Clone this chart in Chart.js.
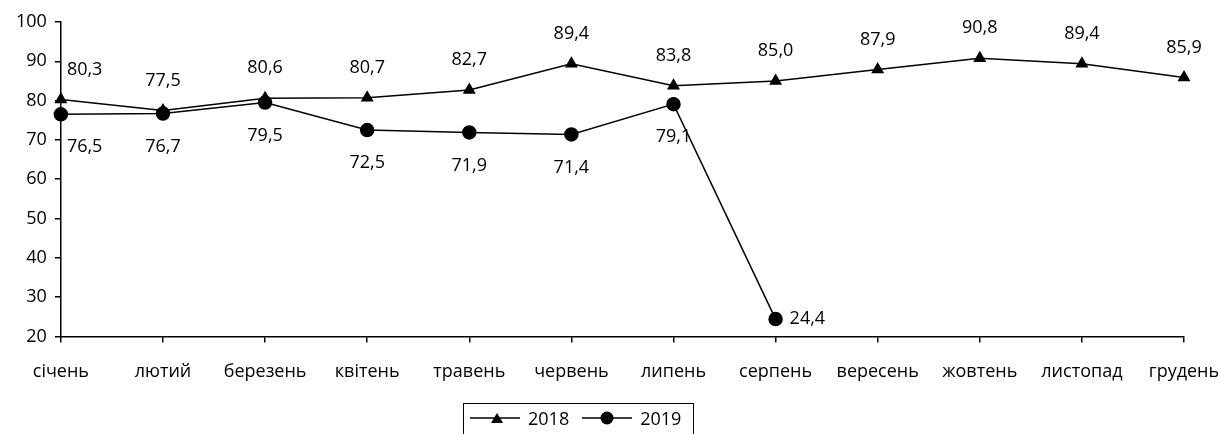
<!DOCTYPE html>
<html>
<head>
<meta charset="utf-8">
<script src="https://cdn.jsdelivr.net/npm/chart.js@4/dist/chart.umd.min.js"></script>
<style>
  html, body { margin: 0; padding: 0; background: #fff; }
  #wrap { position: relative; width: 1220px; height: 434px; }
  #legend {
    position: absolute; left: 463px; top: 403px; width: 231px; height: 40px;
    border: 1px solid #000; box-sizing: border-box;
    font-family: "Open Sans", sans-serif; font-size: 18px; color: #000;
    display: flex; align-items: flex-start; padding: 2px 0 0 6px;
  }
  #legend .item { display: flex; align-items: center; margin-right: 13px; }
  #legend svg { margin-right: 8px; }
</style>
</head>
<body>
<div id="wrap">
  <canvas id="lineChart"></canvas>
  <div id="legend"></div>
</div>
<script>
// months and values
const months = ['січень', 'лютий', 'березень', 'квітень', 'травень', 'червень',
                'липень', 'серпень', 'вересень', 'жовтень', 'листопад', 'грудень'];
const values2018 = [80.3, 77.5, 80.6, 80.7, 82.7, 89.4, 83.8, 85.0, 87.9, 90.8, 89.4, 85.9];
const values2019 = [76.5, 76.7, 79.5, 72.5, 71.9, 71.4, 79.1, 24.4];
const yTicks = [20, 30, 40, 50, 60, 70, 80, 90, 100];

const FONT = { family: '"Open Sans", sans-serif', size: 18 };

// draws the value labels (comma as decimal mark, like the original)
const valueLabels = {
    id: 'valueLabels',
    afterDatasetsDraw: function (chart) {
        const ctx = chart.ctx;
        const area = chart.chartArea;
        ctx.save();
        ctx.font = FONT.size + 'px ' + FONT.family;
        ctx.fillStyle = '#000';
        ctx.textBaseline = 'middle';
        chart.data.datasets.forEach(function (ds, i) {
            const meta = chart.getDatasetMeta(i);
            meta.data.forEach(function (pt, j) {
                const text = ds.data[j].toFixed(1).replace('.', ',');
                const w = ctx.measureText(text).width;
                let x = pt.x, y = pt.y;
                let side = ds.labelSide;
                if (j === ds.data.length - 1 && ds.lastLabelSide) side = ds.lastLabelSide;
                if (side === 'right') {
                    ctx.textAlign = 'left';
                    ctx.fillText(text, x + 14, y);
                    return;
                }
                x = Math.max(x, area.left + w / 2 + 6);
                y = side === 'top' ? y - 30 : y + 33;
                ctx.textAlign = 'center';
                ctx.fillText(text, x, y);
            });
        });
        ctx.restore();
    }
};

const ctx = document.getElementById('lineChart').getContext('2d');

const data = {
    labels: months,
    datasets: [{
        label: '2018',
        data: values2018,
        borderColor: '#000',
        backgroundColor: '#000',
        borderWidth: 1.5,
        pointStyle: 'triangle',
        pointRadius: 6,
        pointHoverRadius: 6,
        tension: 0,
        order: 2,
        labelSide: 'top'
    },
    {
        label: '2019',
        data: values2019,
        borderColor: '#000',
        backgroundColor: '#000',
        borderWidth: 1.5,
        pointStyle: 'circle',
        pointRadius: 6.5,
        pointHoverRadius: 6.5,
        tension: 0,
        order: 1,
        labelSide: 'bottom',
        lastLabelSide: 'right'
    }]
};

const config = {
    type: 'line',
    data: data,
    options: {
        responsive: true,
        maintainAspectRatio: false,
        animation: false,
        layout: {
            padding: { top: 22, right: 0, bottom: 32, left: 8 }
        },
        scales: {
            x: {
                offset: false,
                afterFit: function (axis) {
                    axis.paddingRight = 36;
                },
                border: { display: true, color: '#000', width: 1.5 },
                grid: { display: true, drawOnChartArea: false, drawTicks: true, tickLength: 6, color: '#000', lineWidth: 1.5 },
                ticks: { color: '#000', font: FONT, padding: 19, maxRotation: 0, autoSkip: false }
            },
            y: {
                min: 20,
                max: 100,
                afterBuildTicks: function (axis) {
                    axis.ticks = yTicks.map(function (v) { return { value: v }; });
                },
                border: { display: true, color: '#000', width: 1.5 },
                grid: { display: true, drawOnChartArea: false, drawTicks: true, tickLength: 6, color: '#000', lineWidth: 1.5 },
                ticks: { color: '#000', font: FONT, padding: 8 }
            }
        },
        plugins: {
            legend: { display: false },
            tooltip: { enabled: false }
        }
    },
    plugins: [valueLabels]
};

const lineChart = new Chart(ctx, config);

// legend like the original: line with a marker, then the year
const legendBox = document.getElementById('legend');
data.datasets.forEach(function (ds) {
    const item = document.createElement('div');
    item.className = 'item';
    const marker = ds.pointStyle === 'triangle'
        ? '<polygon points="27,2 33,12 21,12" fill="#000"/>'
        : '<circle cx="25" cy="7" r="6.5" fill="#000"/>';
    item.innerHTML = '<svg width="50" height="14"><line x1="0" y1="7" x2="50" y2="7" stroke="#000" stroke-width="1.5"/>' +
        marker + '</svg><span>' + ds.label + '</span>';
    legendBox.appendChild(item);
});
</script>
</body>
</html>
